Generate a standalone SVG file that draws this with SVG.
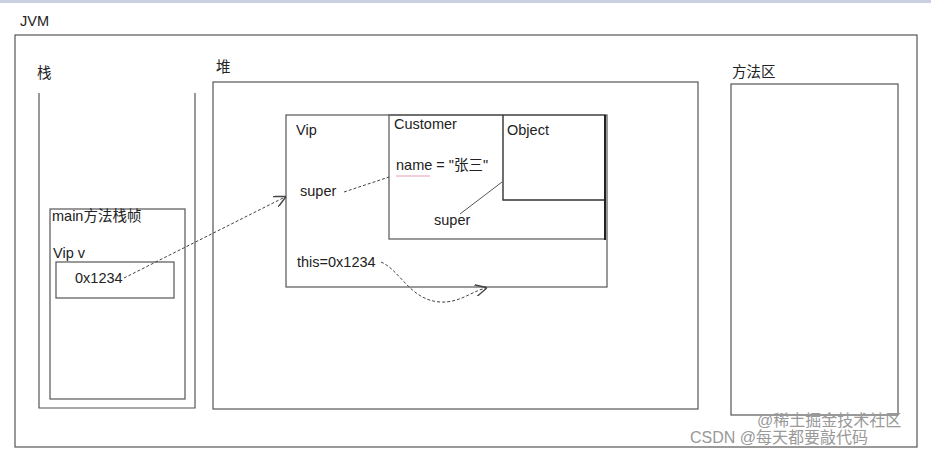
<svg xmlns="http://www.w3.org/2000/svg" width="931" height="455" viewBox="0 0 931 455">
<defs>
<style>
.t{font-family:"Liberation Sans","Noto Sans CJK SC",sans-serif;font-size:14.5px;fill:#222}
.box{fill:none;stroke:#555;stroke-width:1.2}
.con{fill:none;stroke:#444;stroke-width:1;stroke-dasharray:3 2}
.wm{font-family:"Liberation Sans","Noto Sans CJK SC",sans-serif;font-size:16px;fill:#999}
</style>
<marker id="arr" viewBox="0 0 10 10" refX="9" refY="5" markerWidth="12" markerHeight="12" markerUnits="userSpaceOnUse" orient="auto">
<path d="M0,0 L10,5 L0,10" fill="none" stroke="#444" stroke-width="1.2"/>
</marker>
</defs>
<rect width="931" height="455" fill="#fff"/>
<rect x="0" y="0" width="931" height="3" fill="#c9cfe0"/>
<g id="jvm">
<text class="t" x="20" y="26" font-size="13">JVM</text>
<rect class="box" x="15" y="35" width="902" height="412"/>
</g>
<g id="stack">
<text class="t" x="37" y="78">栈</text>
<path class="box" d="M39,93 V408 H195 V93"/>
</g>
<g id="mainframe">
<rect class="box" x="50" y="209" width="135" height="190"/>
<text class="t" x="52" y="221">main方法栈帧</text>
<text class="t" x="53" y="258">Vip v</text>
</g>
<g id="vipv">
<rect class="box" x="56" y="262" width="118" height="36"/>
<text class="t" x="75" y="283">0x1234</text>
</g>
<g id="heap">
<text class="t" x="216" y="72">堆</text>
<rect class="box" x="213" y="82" width="485" height="327"/>
</g>
<g id="vip">
<rect class="box" x="286" y="115" width="321" height="172"/>
<text class="t" x="296" y="135">Vip</text>
<text class="t" x="300" y="196">super</text>
<text class="t" x="297" y="267">this=0x1234</text>
</g>
<g id="customer">
<rect class="box" x="389" y="115" width="216" height="124"/>
<text class="t" x="394" y="129">Customer</text>
<text class="t" x="396" y="170">name = "张三"</text>
<line x1="396" y1="176" x2="430" y2="176" stroke="#e8a0b0" stroke-width="1.2"/>
<text class="t" x="434" y="225">super</text>
</g>
<g id="object">
<path d="M503,115 V200 H605" fill="none" stroke="#333" stroke-width="1.4"/>
<line x1="605" y1="115" x2="605" y2="240" stroke="#222" stroke-width="2"/>
<text class="t" x="507" y="135">Object</text>
</g>
<g id="methodarea">
<text class="t" x="732" y="77">方法区</text>
<rect class="box" x="731" y="84" width="167" height="331"/>
</g>
<g id="connectors">
<line class="con" x1="124" y1="278" x2="285" y2="197" marker-end="url(#arr)"/>
<line class="con" x1="344" y1="192" x2="389" y2="177"/>
<line x1="460" y1="214" x2="502" y2="182" stroke="#555" stroke-width="1"/>
<path class="con" d="M381,262 C400,270 410,300 440,302 C460,303 470,292 486,288" marker-end="url(#arr)"/>
</g>
<g id="watermark">
<text class="wm" x="690" y="443">CSDN @每天都要敲代码</text>
<text class="wm" x="757" y="426" fill="#aaa" font-size="14">@稀土掘金技术社区</text>
</g>
</svg>
